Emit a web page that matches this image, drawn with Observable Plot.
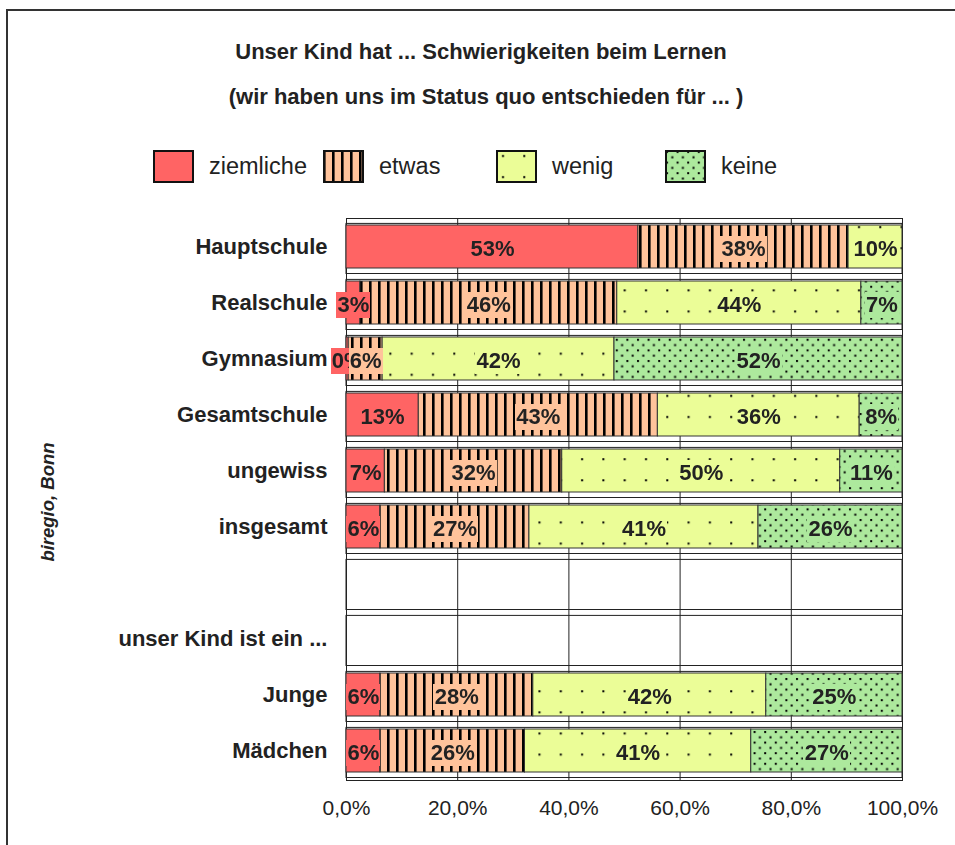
<!DOCTYPE html>
<html><head><meta charset="utf-8">
<script src="https://cdn.jsdelivr.net/npm/d3@7"></script>
<script src="https://cdn.jsdelivr.net/npm/@observablehq/plot@0.6"></script>
<style>
html,body{margin:0;padding:0;background:#fff;}
body{width:955px;height:845px;overflow:hidden;position:relative;font-family:"Liberation Sans",Arial,sans-serif;color:#222;}
#frame{position:absolute;left:6px;top:9px;width:1000px;height:900px;border-left:2px solid #333;border-top:2px solid #333;}
.title{position:absolute;left:0;text-align:center;font-weight:bold;font-size:22px;line-height:24px;white-space:nowrap;}
#legend .item{position:absolute;top:150px;height:32px;display:flex;align-items:center;font-size:23.5px;white-space:nowrap;}
#legend svg{margin-right:15px;display:block;}
#ylab{position:absolute;left:48px;top:502px;transform:translate(-50%,-50%) rotate(-90deg);font-weight:bold;font-style:italic;font-size:18.5px;white-space:nowrap;}
#chart{position:absolute;left:0;top:200px;}
#chart g[aria-label="y-axis tick label"]{font-weight:bold;font-size:22px;}
</style></head><body>
<svg width="0" height="0" style="position:absolute">
<defs>
<pattern id="pEtwas" patternUnits="userSpaceOnUse" width="9" height="8">
<rect width="9" height="8" fill="#FFC39B"/><rect x="0" y="0" width="2.6" height="8" fill="#000"/>
</pattern>
<pattern id="pWenig" patternUnits="userSpaceOnUse" width="21.3" height="21.1">
<rect width="21.3" height="21.1" fill="#EBFD97"/><rect x="6" y="5" width="2" height="2" fill="#000"/>
</pattern>
<pattern id="pKeine" patternUnits="userSpaceOnUse" width="10.6" height="10.6">
<rect width="10.6" height="10.6" fill="#ADE99D"/><rect x="1" y="1" width="2" height="2" fill="#000"/><rect x="6.3" y="6.3" width="2" height="2" fill="#000"/>
</pattern>
<filter id="bg0" x="-0.02" y="0" width="1.04" height="1" color-interpolation-filters="sRGB"><feFlood flood-color="#FF6464"/><feComposite in="SourceGraphic" operator="over"/></filter>
<filter id="bg1" x="-0.02" y="0" width="1.04" height="1" color-interpolation-filters="sRGB"><feFlood flood-color="#FFC39B"/><feComposite in="SourceGraphic" operator="over"/></filter>
<filter id="bg2" x="-0.02" y="0" width="1.04" height="1" color-interpolation-filters="sRGB"><feFlood flood-color="#EBFD97"/><feComposite in="SourceGraphic" operator="over"/></filter>
<filter id="bg3" x="-0.02" y="0" width="1.04" height="1" color-interpolation-filters="sRGB"><feFlood flood-color="#ADE99D"/><feComposite in="SourceGraphic" operator="over"/></filter>
</defs>
</svg>
<div id="frame"></div>
<div class="title" style="top:40px;width:962px;">Unser Kind hat ... Schwierigkeiten beim Lernen</div>
<div class="title" style="top:85px;width:972px;">(wir haben uns im Status quo entschieden für ... )</div>
<div id="legend"></div>
<div id="ylab">biregio, Bonn</div>
<div id="chart"></div>
<script>
// ---- data ----
const categories = ["Hauptschule","Realschule","Gymnasium","Gesamtschule","ungewiss","insgesamt"," ","unser Kind ist ein ...","Junge","Mädchen"];
const barRows = ["Hauptschule","Realschule","Gymnasium","Gesamtschule","ungewiss","insgesamt","Junge","Mädchen"];
const seriesNames = ["ziemliche","etwas","wenig","keine"];
const ziemliche = [52.5, 2.5, 0.4, 13.0, 6.9, 6.1, 6.1, 6.1];
const etwas     = [37.8, 46.2, 6.1, 43.0, 31.9, 26.8, 27.5, 26.0];
const wenig     = [9.7, 43.9, 41.7, 36.3, 50.0, 41.2, 41.9, 40.7];
const keine     = [0, 7.4, 51.8, 7.7, 11.2, 25.9, 24.5, 27.2];
const xTicks = [0, 20, 40, 60, 80, 100];

// ---- styles ----
const seriesFills = ["#FF6464", "url(#pEtwas)", "url(#pWenig)", "url(#pKeine)"];
const legendLeft = [153, 323, 496, 665];

const seriesValues = [ziemliche, etwas, wenig, keine];
const table = [];
barRows.forEach((row, i) => seriesNames.forEach((s, j) => table.push({row, series: s, value: seriesValues[j][i]})));

const fmtTick = d => d.toFixed(1).replace(".", ",") + "%";

const chart = Plot.plot({
  width: 955,
  height: 645,
  marginLeft: 346,
  marginRight: 53,
  marginTop: 18,
  marginBottom: 65,
  style: {fontFamily: "'Liberation Sans', Arial, sans-serif", fontSize: "21px", color: "#222", background: "transparent", overflow: "visible"},
  x: {domain: [xTicks[0], xTicks[xTicks.length - 1]], ticks: xTicks, tickFormat: fmtTick, tickSize: 0, tickPadding: 20, label: null},
  y: {domain: categories, paddingInner: 0.226, paddingOuter: 0.113, tickSize: 0, tickPadding: 19, label: null},
  color: {type: "ordinal", domain: seriesNames, range: seriesFills},
  marks: [
    Plot.ruleX(xTicks.slice(1, -1), {stroke: "#222", strokeWidth: 1}),
    Plot.barX(categories, {x1: xTicks[0], x2: xTicks[xTicks.length - 1], y: d => d, fill: "none", stroke: "#222", strokeWidth: 1, insetTop: -1.6, insetBottom: -5.5}),
    Plot.frame({stroke: "#222", strokeWidth: 1}),
    Plot.barX(table, Plot.stackX({x: "value", y: "row", fill: "series", stroke: "#333", strokeWidth: 1})),
    ...seriesNames.map(s => Plot.text(table, Plot.stackX({
      x: "value", y: "row",
      text: d => (d.series === s && d.value > 0) ? Math.round(d.value) + "%" : null,
      fill: "#222", fontWeight: "bold", fontSize: 22, dy: 2
    })))
  ]
});
document.getElementById("chart").appendChild(chart);
chart.querySelectorAll('g[aria-label="text"]').forEach((g, i) => {
  g.querySelectorAll("text").forEach(t => t.setAttribute("filter", `url(#bg${i})`));
});

// ---- legend ----
const legend = document.getElementById("legend");
seriesNames.forEach((s, i) => {
  const item = document.createElement("div");
  item.className = "item";
  item.style.left = legendLeft[i] + "px";
  item.innerHTML = `<svg width="41" height="33"><rect x="1" y="1" width="39" height="31" fill="${seriesFills[i]}" stroke="#111" stroke-width="2"/></svg><span>${s}</span>`;
  legend.appendChild(item);
});
</script>
</body></html>
